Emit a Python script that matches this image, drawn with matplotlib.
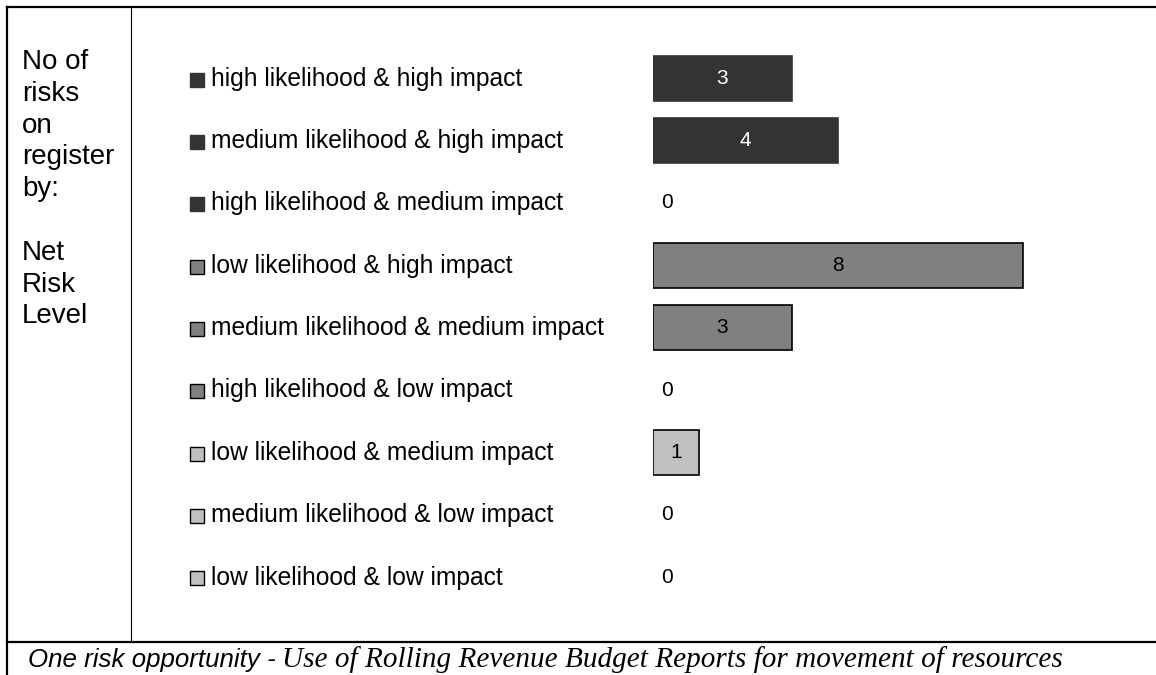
import matplotlib
matplotlib.use("Agg")
import matplotlib.pyplot as plt
from matplotlib.lines import Line2D
from matplotlib.transforms import blended_transform_factory

# data
categories = [
    "high likelihood & high impact",
    "medium likelihood & high impact",
    "high likelihood & medium impact",
    "low likelihood & high impact",
    "medium likelihood & medium impact",
    "high likelihood & low impact",
    "low likelihood & medium impact",
    "medium likelihood & low impact",
    "low likelihood & low impact",
]
counts = [3, 4, 0, 8, 3, 0, 1, 0, 0]
net_level = ["high", "high", "high", "medium", "medium", "medium", "low", "low", "low"]

side_text = "No of\nrisks\non\nregister\nby:\n\nNet\nRisk\nLevel"
note_head = "One risk opportunity - "
note_body = "Use of Rolling Revenue Budget Reports for movement of resources"

fill = {"high": "#333333", "medium": "#808080", "low": "#C0C0C0"}
edge = {"high": "#333333", "medium": "#000000", "low": "#000000"}

W, H = 1156, 675
plt.rcParams["font.family"] = ["Liberation Sans", "DejaVu Sans"]

fig = plt.figure(figsize=(W / 100, H / 100), dpi=100)


def fx(px):
    return px / W


def fy(py):
    return 1 - py / H


# frame lines
fig.add_artist(Line2D([fx(7), 1], [fy(7), fy(7)], color="black", lw=1.6))
fig.add_artist(Line2D([fx(7), fx(7)], [fy(7), 0], color="black", lw=1.6))
fig.add_artist(Line2D([fx(131), fx(131)], [fy(7), fy(642)], color="black", lw=0.8))
fig.add_artist(Line2D([fx(7), 1], [fy(642), fy(642)], color="black", lw=1.6))

# bars
unit = 46.25
top, bottom = 47.15, 608.2
ax = fig.add_axes([fx(653), fy(bottom), (W - 653) / W, (bottom - top) / H])
ax.axis("off")
ypos = list(range(len(categories)))
ax.barh(ypos, counts, height=0.72,
        color=[fill[l] for l in net_level],
        edgecolor=[edge[l] for l in net_level],
        linewidth=[1.2 if v > 0 else 0 for v in counts])
ax.set_xlim(0, (W - 653) / unit)
ax.set_ylim(len(categories) - 0.5, -0.5)

for y, v, lvl in zip(ypos, counts, net_level):
    if v > 0:
        ax.text(v / 2, y, str(v), ha="center", va="center", fontsize=15,
                color="white" if lvl == "high" else "black")
    else:
        ax.text(0.3, y, "0", ha="center", va="center", fontsize=15)

# category labels with little colour keys
trans = blended_transform_factory(fig.transFigure, ax.transData)
for y, name, lvl in zip(ypos, categories, net_level):
    ax.plot([fx(197)], [y + 0.02], marker="s", ms=9.5, mfc=fill[lvl],
            mec=edge[lvl], mew=1.0, transform=trans, clip_on=False)
    ax.text(fx(211), y + 0.12, name, va="baseline", ha="left",
            fontsize=17.7, transform=trans)

fig.text(fx(22), fy(49), side_text, va="top", ha="left", fontsize=20,
         linespacing=1.29)

fig.text(fx(28), fy(667), note_head, va="baseline", ha="left", fontsize=18.6,
         fontstyle="italic")
fig.text(fx(282), fy(667), note_body, va="baseline", ha="left", fontsize=21.1,
         fontstyle="italic", family=["Liberation Serif", "DejaVu Serif"])

fig.savefig("out.png", dpi=100)
